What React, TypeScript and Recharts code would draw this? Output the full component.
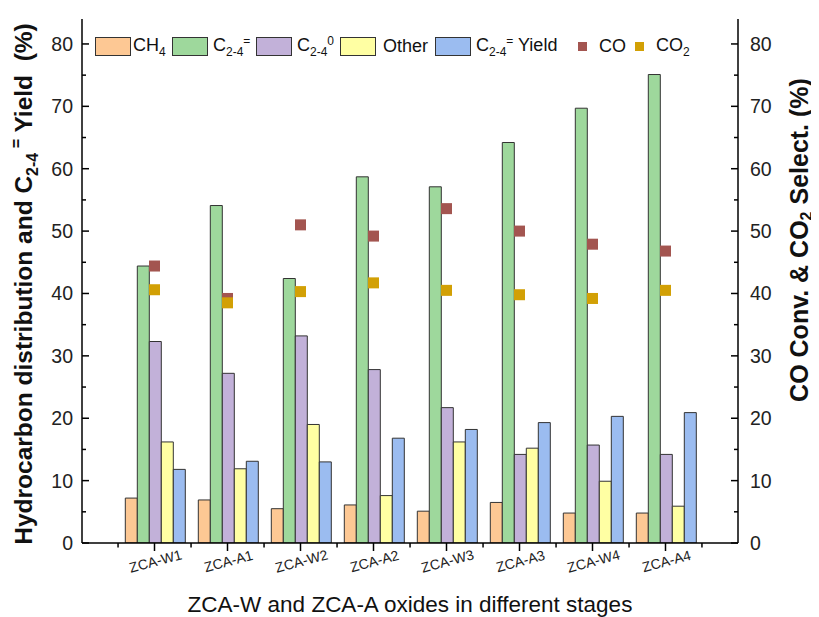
import React from 'react';
import { ComposedChart, Bar, Scatter, XAxis, YAxis } from 'recharts';

const categories = ['ZCA-W1', 'ZCA-A1', 'ZCA-W2', 'ZCA-A2', 'ZCA-W3', 'ZCA-A3', 'ZCA-W4', 'ZCA-A4'];
const ch4 = [7.2, 6.9, 5.5, 6.1, 5.1, 6.5, 4.8, 4.8];
const c24ene = [44.4, 54.1, 42.4, 58.7, 57.1, 64.2, 69.7, 75.1];
const c24ane = [32.3, 27.2, 33.2, 27.8, 21.7, 14.2, 15.7, 14.2];
const other = [16.2, 11.9, 19.0, 7.6, 16.2, 15.2, 9.9, 5.9];
const yieldC24 = [11.8, 13.1, 13.0, 16.8, 18.2, 19.3, 20.3, 20.9];
const coConv = [44.4, 39.2, 51.0, 49.2, 53.6, 50.0, 47.9, 46.8];
const co2Sel = [40.6, 38.5, 40.3, 41.7, 40.5, 39.8, 39.2, 40.5];
const yTicks = [0, 5, 10, 15, 20, 25, 30, 35, 40, 45, 50, 55, 60, 65, 70, 75, 80];

const data = categories.map((name, i) => ({
  name,
  ch4: ch4[i],
  c24ene: c24ene[i],
  c24ane: c24ane[i],
  other: other[i],
  yieldC24: yieldC24[i],
  co: coConv[i],
  co2: co2Sel[i],
}));

const FONT = '"Liberation Sans", Arial, sans-serif';
const COLORS = {
  ch4: '#FDC894',
  c24ene: '#9ED89C',
  c24ane: '#C2B1D9',
  other: '#FFFFA3',
  yieldC24: '#9BBCF0',
  co: '#A35550',
  co2: '#D2A005',
};

const HALF_BAND = 36.45;

const XTick = (props: any) => {
  const { x, y, payload, index } = props;
  const last = index === categories.length - 1;
  return (
    <g>
      <line x1={x} x2={x} y1={y} y2={y + 8} stroke="#000" strokeWidth={1.5} />
      <line x1={x - HALF_BAND} x2={x - HALF_BAND} y1={y} y2={y + 4.5} stroke="#000" strokeWidth={1.5} />
      {last && <line x1={x + HALF_BAND} x2={x + HALF_BAND} y1={y} y2={y + 4.5} stroke="#000" strokeWidth={1.5} />}
      <text
        x={x + 1}
        y={y + 23}
        textAnchor="middle"
        fontSize={14}
        fontFamily={FONT}
        fill="#222"
        transform={`rotate(-15, ${x + 1}, ${y + 18})`}
      >
        {payload.value}
      </text>
    </g>
  );
};

const LeftTick = (props: any) => {
  const { x, y, payload } = props;
  const ax = x + 9;
  const major = payload.value % 10 === 0;
  return (
    <g>
      <line x1={ax} x2={ax + (major ? 7 : 4)} y1={y} y2={y} stroke="#000" strokeWidth={1.5} />
      {major && (
        <text x={x} y={y} dy="0.36em" textAnchor="end" fontSize={19.5} fontFamily={FONT} fill="#222">
          {payload.value}
        </text>
      )}
    </g>
  );
};

const RightTick = (props: any) => {
  const { x, y, payload } = props;
  const ax = x - 12;
  const major = payload.value % 10 === 0;
  return (
    <g>
      <line x1={ax} x2={ax - (major ? 7 : 4)} y1={y} y2={y} stroke="#000" strokeWidth={1.5} />
      {major && (
        <text x={x} y={y} dy="0.36em" textAnchor="start" fontSize={19.5} fontFamily={FONT} fill="#222">
          {payload.value}
        </text>
      )}
    </g>
  );
};

const LeftTitle = () => (
  <text
    transform="rotate(-90)"
    x={-276}
    y={24}
    textAnchor="middle"
    fontSize={24.5}
    fontWeight="bold"
    fontFamily={FONT}
    fill="#111"
    style={{ whiteSpace: 'pre' }}
  >
    <tspan>Hydrocarbon distribution and C</tspan>
    <tspan fontSize={16} dy={6}>2-4</tspan>
    <tspan fontSize={16} dy={-16}>{' ='}</tspan>
    <tspan fontSize={24.5} dy={10}>{' Yield  (%)'}</tspan>
  </text>
);

const RightTitle = () => (
  <text
    transform="rotate(-90)"
    x={-232}
    y={800}
    textAnchor="middle"
    fontSize={25}
    fontWeight="bold"
    fontFamily={FONT}
    fill="#111"
    style={{ whiteSpace: 'pre' }}
  >
    <tspan>CO Conv. &amp; CO</tspan>
    <tspan fontSize={16} dy={4}>2</tspan>
    <tspan fontSize={25} dy={-4}>{' Select. (%)'}</tspan>
  </text>
);

const XTitle = () => (
  <text x={402} y={604} textAnchor="middle" fontSize={22.5} fontFamily={FONT} fill="#111">
    ZCA-W and ZCA-A oxides in different stages
  </text>
);

const SquareShape = (color: string) => (props: any) => {
  const { cx, cy } = props;
  return <rect x={cx - 5.5} y={cy - 5.5} width={11} height={11} fill={color} />;
};

const Swatch = ({ color }: { color: string }) => (
  <span
    style={{
      display: 'inline-block',
      boxSizing: 'border-box',
      width: 36,
      height: 19,
      background: color,
      border: '1.5px solid #333',
      marginRight: 2,
      flex: 'none',
    }}
  />
);

const Marker = ({ color }: { color: string }) => (
  <span style={{ display: 'inline-block', width: 9, height: 9, background: color, flex: 'none' }} />
);

const Sub = ({ children }: { children: React.ReactNode }) => (
  <span style={{ fontSize: 12, position: 'relative', top: 5 }}>{children}</span>
);
const Sup = ({ children }: { children: React.ReactNode }) => (
  <span style={{ fontSize: 12, position: 'relative', top: -6 }}>{children}</span>
);

const item = (left: number): React.CSSProperties => ({
  position: 'absolute',
  left,
  top: 0,
  display: 'flex',
  alignItems: 'center',
  height: 19,
  whiteSpace: 'nowrap',
});

const LegendBox = () => (
  <div
    style={{
      position: 'absolute',
      left: 87,
      top: 29,
      width: 620,
      height: 19,
      fontFamily: FONT,
      fontSize: 18,
      color: '#111',
      lineHeight: '19px',
    }}
  >
    <span style={item(0)}>
      <Swatch color={COLORS.ch4} />
      <span>CH<Sub>4</Sub></span>
    </span>
    <span style={item(77)}>
      <Swatch color={COLORS.c24ene} />
      <span style={{ marginLeft: 3 }}>C<Sub>2-4</Sub><Sup>=</Sup></span>
    </span>
    <span style={item(161)}>
      <Swatch color={COLORS.c24ane} />
      <span style={{ marginLeft: 3 }}>C<Sub>2-4</Sub><Sup>0</Sup></span>
    </span>
    <span style={item(245)}>
      <Swatch color={COLORS.other} />
      <span style={{ marginLeft: 5 }}>Other</span>
    </span>
    <span style={item(340)}>
      <Swatch color={COLORS.yieldC24} />
      <span style={{ marginLeft: 3 }}>C<Sub>2-4</Sub><Sup>=</Sup> Yield</span>
    </span>
    <span style={item(483)}>
      <Marker color={COLORS.co} />
      <span style={{ marginLeft: 12 }}>CO</span>
    </span>
    <span style={item(540)}>
      <Marker color={COLORS.co2} />
      <span style={{ marginLeft: 12 }}>CO<Sub>2</Sub></span>
    </span>
  </div>
);

export default function App() {
  return (
    <div style={{ position: 'relative', width: 811, height: 609, background: '#fff' }}>
      <ComposedChart
        width={811}
        height={609}
        data={data}
        margin={{ top: 11, right: 21, bottom: 24, left: 14 }}
        barCategoryGap="10%"
        barGap={0}
      >
        <XAxis
          dataKey="name"
          padding={{ left: 36, right: 36 }}
          height={50}
          interval={0}
          tickLine={false}
          tickSize={0}
          tickMargin={0}
          tick={<XTick />}
          axisLine={{ stroke: '#000', strokeWidth: 1.5 }}
          label={<XTitle />}
        />
        <YAxis
          yAxisId="left"
          orientation="left"
          width={60}
          domain={[0, 84]}
          ticks={yTicks}
          interval={0}
          allowDataOverflow
          tickLine={false}
          tickSize={0}
          tickMargin={9}
          tick={<LeftTick />}
          axisLine={{ stroke: '#000', strokeWidth: 1.5 }}
          label={<LeftTitle />}
        />
        <YAxis
          yAxisId="right"
          orientation="right"
          width={60}
          domain={[0, 84]}
          ticks={yTicks}
          interval={0}
          allowDataOverflow
          tickLine={false}
          tickSize={0}
          tickMargin={12}
          tick={<RightTick />}
          axisLine={{ stroke: '#000', strokeWidth: 1.5 }}
          label={<RightTitle />}
        />
        <Bar yAxisId="left" dataKey="ch4" fill={COLORS.ch4} stroke="#333" strokeWidth={1} isAnimationActive={false} />
        <Bar yAxisId="left" dataKey="c24ene" fill={COLORS.c24ene} stroke="#333" strokeWidth={1} isAnimationActive={false} />
        <Bar yAxisId="left" dataKey="c24ane" fill={COLORS.c24ane} stroke="#333" strokeWidth={1} isAnimationActive={false} />
        <Bar yAxisId="left" dataKey="other" fill={COLORS.other} stroke="#333" strokeWidth={1} isAnimationActive={false} />
        <Bar yAxisId="left" dataKey="yieldC24" fill={COLORS.yieldC24} stroke="#333" strokeWidth={1} isAnimationActive={false} />
        <Scatter yAxisId="right" dataKey="co" fill={COLORS.co} shape={SquareShape(COLORS.co)} isAnimationActive={false} />
        <Scatter yAxisId="right" dataKey="co2" fill={COLORS.co2} shape={SquareShape(COLORS.co2)} isAnimationActive={false} />
      </ComposedChart>
      <LegendBox />
    </div>
  );
}
